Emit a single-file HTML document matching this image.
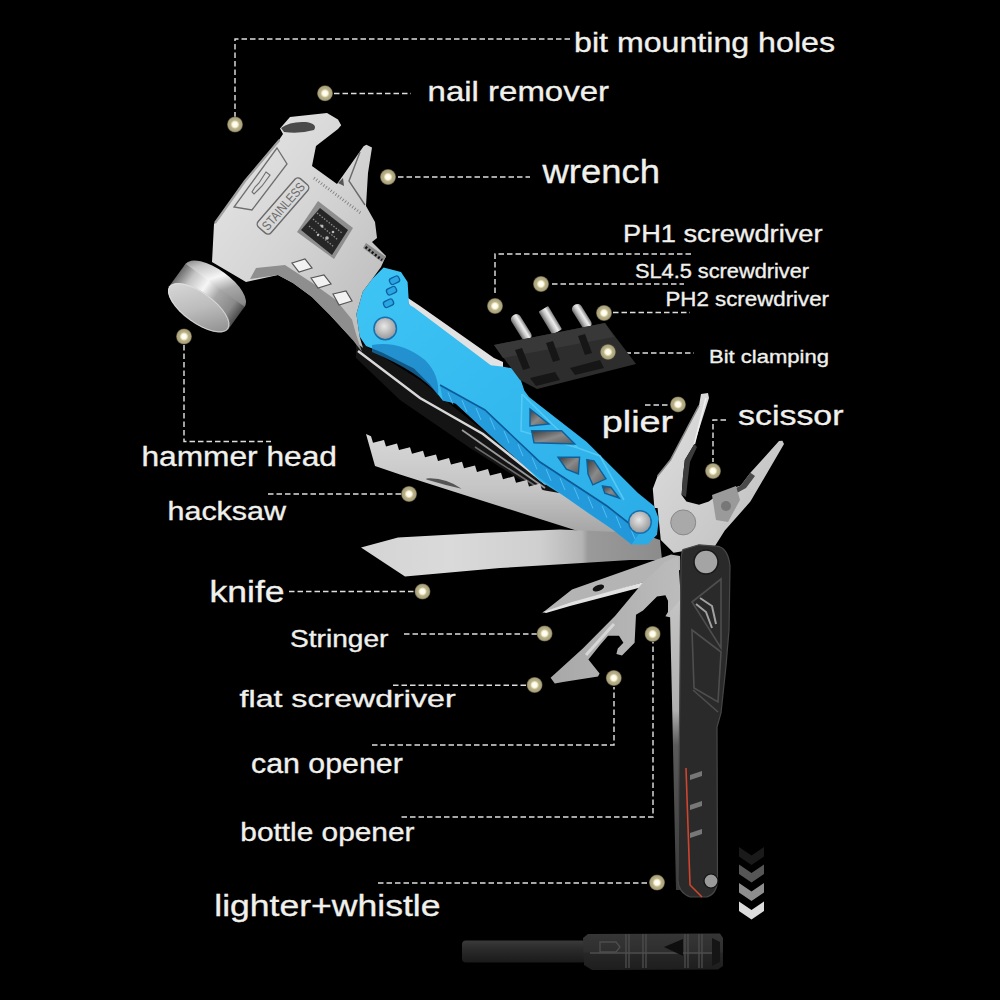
<!DOCTYPE html>
<html><head><meta charset="utf-8">
<style>
html,body{margin:0;padding:0;background:#000;width:1000px;height:1000px;overflow:hidden}
svg{display:block}
text{font-family:"Liberation Sans",sans-serif;fill:#f0f0ec;stroke:#f0f0ec;stroke-width:0.35px}
</style></head><body>
<svg width="1000" height="1000" viewBox="0 0 1000 1000">
<defs>
  <radialGradient id="dot" cx="50%" cy="50%" r="50%">
    <stop offset="0" stop-color="#ffffff"/>
    <stop offset="0.3" stop-color="#fffbea"/>
    <stop offset="0.42" stop-color="#e6dfb8"/>
    <stop offset="0.55" stop-color="#b9b28a"/>
    <stop offset="0.85" stop-color="#a9a27b"/>
    <stop offset="1" stop-color="#4a4632"/>
  </radialGradient>
  <linearGradient id="steel" x1="0" y1="0" x2="1" y2="1">
    <stop offset="0" stop-color="#e8e8e8"/>
    <stop offset="0.5" stop-color="#d4d4d4"/>
    <stop offset="1" stop-color="#b8b8b8"/>
  </linearGradient>
  <linearGradient id="blade" x1="0" y1="0" x2="0" y2="1">
    <stop offset="0" stop-color="#d8d8d8"/>
    <stop offset="0.5" stop-color="#c4c4c4"/>
    <stop offset="1" stop-color="#9a9a9a"/>
  </linearGradient>
  <linearGradient id="blue" x1="0" y1="0" x2="1" y2="1">
    <stop offset="0" stop-color="#3ec4f4"/>
    <stop offset="0.5" stop-color="#34b9ef"/>
    <stop offset="1" stop-color="#2aabe6"/>
  </linearGradient>
  <linearGradient id="cyl" gradientUnits="userSpaceOnUse" x1="185" y1="262" x2="245" y2="305">
    <stop offset="0" stop-color="#8a8a8a"/>
    <stop offset="0.35" stop-color="#f0f0f0"/>
    <stop offset="0.6" stop-color="#a8a8a8"/>
    <stop offset="1" stop-color="#606060"/>
  </linearGradient>
  <linearGradient id="face" x1="0" y1="0" x2="1" y2="1">
    <stop offset="0" stop-color="#d6d6d6"/>
    <stop offset="1" stop-color="#8c8c8c"/>
  </linearGradient>
  <linearGradient id="chev" x1="0" y1="0" x2="0" y2="1">
    <stop offset="0" stop-color="#111"/>
    <stop offset="1" stop-color="#f4f4f4"/>
  </linearGradient>
  <linearGradient id="knifeg" gradientUnits="userSpaceOnUse" x1="360" y1="0" x2="660" y2="0">
    <stop offset="0" stop-color="#d4d4d4"/>
    <stop offset="0.3" stop-color="#dadada"/>
    <stop offset="0.6" stop-color="#cfcfcf"/>
    <stop offset="0.74" stop-color="#b4b4b4"/>
    <stop offset="0.76" stop-color="#9a9a9a"/>
    <stop offset="1" stop-color="#8c8c8c"/>
  </linearGradient>
  <linearGradient id="openg" x1="0" y1="0" x2="1" y2="0">
    <stop offset="0" stop-color="#a8a8a8"/>
    <stop offset="1" stop-color="#bcbcbc"/>
  </linearGradient>
  <linearGradient id="plierg" x1="0" y1="0" x2="1" y2="1">
    <stop offset="0" stop-color="#e0e0e0"/>
    <stop offset="1" stop-color="#bdbdbd"/>
  </linearGradient>
  <radialGradient id="screwg" cx="45%" cy="40%" r="60%">
    <stop offset="0" stop-color="#e8e8e8"/>
    <stop offset="1" stop-color="#9a9a9a"/>
  </radialGradient>
  <linearGradient id="wing" x1="0" y1="0" x2="1" y2="1">
    <stop offset="0" stop-color="#3a3a3a"/>
    <stop offset="0.5" stop-color="#8a8a8a"/>
    <stop offset="1" stop-color="#5a5a5a"/>
  </linearGradient>
  <linearGradient id="linerg" gradientUnits="userSpaceOnUse" x1="0" y1="600" x2="0" y2="890">
    <stop offset="0" stop-color="#c4c4c4"/>
    <stop offset="0.38" stop-color="#b0b0b0"/>
    <stop offset="0.5" stop-color="#5a5a5a"/>
    <stop offset="1" stop-color="#3a3a3a"/>
  </linearGradient>
  <linearGradient id="bitg" x1="0" y1="0" x2="0" y2="1">
    <stop offset="0" stop-color="#808080"/>
    <stop offset="0.35" stop-color="#eeeeee"/>
    <stop offset="0.6" stop-color="#c8c8c8"/>
    <stop offset="1" stop-color="#6a6a6a"/>
  </linearGradient>
  <linearGradient id="rodg" x1="0" y1="0" x2="0" y2="1">
    <stop offset="0" stop-color="#3a3a3a"/>
    <stop offset="0.35" stop-color="#2c2c2c"/>
    <stop offset="1" stop-color="#1a1a1a"/>
  </linearGradient>
  <linearGradient id="whg" x1="0" y1="0" x2="0" y2="1">
    <stop offset="0" stop-color="#363636"/>
    <stop offset="0.5" stop-color="#2e2e2e"/>
    <stop offset="0.55" stop-color="#262626"/>
    <stop offset="1" stop-color="#1e1e1e"/>
  </linearGradient>
</defs>

<!-- ============ LEADER LINES ============ -->
<g stroke="#dedede" stroke-width="1.45" stroke-dasharray="5.5 3" fill="none">
  <path d="M570 39 H235 V118"/>
  <path d="M334 93.5 H411"/>
  <path d="M398 177 H530"/>
  <path d="M691 254 H495 V296"/>
  <path d="M552 284 H684"/>
  <path d="M613 312.5 H690"/>
  <path d="M617 353 H694"/>
  <path d="M645 405 H670"/>
  <path d="M726 420 H713 V462"/>
  <path d="M184 345 V441.5 H271"/>
  <path d="M268 494 H401"/>
  <path d="M289 591.5 H414"/>
  <path d="M404 634 H537"/>
  <path d="M393 685.3 H527"/>
  <path d="M372 745 H614 V687"/>
  <path d="M401.5 817 H653 V642"/>
  <path d="M378 883 H650"/>
</g>

<!-- ============ BLADES (behind) ============ -->
<!-- blade backs strip -->
<polygon fill="#141414" points="356,340 420,380 470,420 560,490 630,540 640,552 625,556 560,505 470,448 400,400 356,358"/>
<path d="M358 351 L420 398 L483 434 L546 484" stroke="#d8d8d8" stroke-width="2.5" fill="none"/>
<path d="M462 430 L545 488" stroke="#9a9a9a" stroke-width="1.8" fill="none"/>
<path d="M475 447 L548 494" stroke="#6a6a6a" stroke-width="1.5" fill="none"/>
<!-- hacksaw -->
<polygon fill="url(#blade)" points="366.0,434.0 371.0,436.3 373.0,442.8 384.0,439.9 386.0,446.4 397.0,443.6 399.0,450.1 410.0,447.2 412.0,453.7 423.0,450.8 425.0,457.3 436.0,454.5 438.0,461.0 449.0,458.1 451.0,464.6 462.0,461.8 464.0,468.3 475.0,465.4 477.0,471.9 488.0,469.0 490.0,475.5 501.0,472.7 503.0,479.2 514.0,476.3 516.0,482.8 527.0,480.0 529.0,486.5 540.0,483.6 542.0,490.1 600.0,500.0 640.0,530.0 640.0,548.0 628.0,547.0 600.0,538.0 540.0,519.0 480.0,500.0 400.0,474.4 375.0,466.0"/>
<path d="M426.4 478.4 Q445 477 461.6 488.8 Q444 485 426.4 479.6Z" fill="#555"/>
<!-- knife -->
<polygon fill="url(#knifeg)" points="361,547.5 398,537.5 480,533 560,529.5 640,533 660,540 662,560 630,560 590,562.5 500,568 405,576.5"/>
<!-- stringer -->
<polygon fill="#b4b4b4" points="541.6,613.6 572,589.6 671,554.4 680,556 680,570 645.6,581.6 546,611.5"/>
<polygon fill="#e2e2e2" points="543,612 572,602 645.6,581.6 646,586 570,606 546,613"/>
<ellipse cx="598.4" cy="588" rx="6" ry="3" transform="rotate(-20 598.4 588)" fill="#111"/>
<!-- opener blade -->
<polygon fill="url(#openg)" points="678,556 681,600 680,617.6 671,617.6 665.4,616.2 668,612 668,600.8 665.4,595.2 657,596.6 643,610.6 636,614.8 634.6,642.8 622,655.4 616.4,654 617.8,648.4 623.4,642.8 619,635.8 608,635.8 600,645 588.4,659.6 599.6,673.6 598,676.4 563,682 554.8,683.4 550.6,677.8 582.8,648.4 615,616 643,582.6 665,562"/>
<path d="M614 624 L586 655" stroke="#d6d6d6" stroke-width="3" fill="none"/>
<!-- liner strip -->
<polygon fill="url(#linerg)" points="670,612 680,600 681,890 676,890 672,700"/>

<!-- ============ PLIERS ============ -->
<polygon fill="url(#plierg)" points="701,394 708,393 709,398 694.4,444 684.8,460 683,476 681.6,495 686.4,501.6 699,504.8 708.8,501.6 721.6,492 740.8,485.6 750.4,472.8 779,441 782.4,440.8 784,444 750.4,501.6 724.8,530.4 715,546 692.8,549.6 673.6,552.8 660.8,540 657.6,508 654.4,508 652.8,488.8 657.6,476 670.4,460 699,405.6"/>
<polygon fill="#3c3c3c" points="694.4,444 684.8,460 683,476 681.6,495 686,497 688,478 690,462 697,447"/>
<polygon fill="#4a4a4a" points="750.4,472.8 740.8,485.6 732,490 735,494 746,488 755,476"/>
<path d="M706 398 L694.4 444" stroke="#f0f0f0" stroke-width="1.5" fill="none"/>
<polygon fill="#9a9a9a" points="712,495 736,486 740,500 728,522 716,520"/>
<circle cx="726" cy="506" r="5" fill="#777"/>
<circle cx="683.2" cy="522.4" r="12.5" fill="#a9a9a9" stroke="#888" stroke-width="1"/>
<path d="M699 405.6 L670.4 460 L657.6 476" stroke="#888" stroke-width="1.5" fill="none"/>

<!-- ============ BLACK HANDLE ============ -->
<path fill="#2a2a2a" stroke="#474747" stroke-width="1.2" d="M683 549.6 L699 544.8 L718.4 546.4 Q728 549 730 565.6 L729 630 L726 666 L721 713 L717 727 L717.5 880 Q717 894 707 897 L690 897 Q678 892 678 880 L679.6 713 L681 560 Q681.6 552 683 549.6 Z"/>
<g stroke="#4e4e4e" stroke-width="1.6" fill="none">
  <path d="M692 602 L721 579 L721 648 Z"/>
  <path d="M692 630 L721 652 L718 702 L694 688 Z"/>
  <path d="M693 690 L718 712"/>
</g>
<g stroke="#b8b8b8" stroke-width="2" fill="none" opacity="0.85">
  <path d="M696 604 L706 612 L712 628"/>
  <path d="M700 598 L712 606 L716 624"/>
</g>
<g fill="#777">
  <polygon points="690,775 702,771 702,776 690,780"/>
  <polygon points="690,805 702,801 702,806 690,810"/>
  <polygon points="690,833 702,829 702,834 690,838"/>
</g>
<path d="M686 768 L690 885 L702 897" stroke="#d0452e" stroke-width="1.6" fill="none"/>
<circle cx="706" cy="562" r="12" fill="#a4a4a4" stroke="#1a1a1a" stroke-width="1.5"/>
<circle cx="711" cy="881" r="7" fill="#9a9a9a" stroke="#111" stroke-width="1.2"/>

<!-- ============ BLUE HANDLE ============ -->
<polygon fill="#e2e2e2" points="405,296 420,306 494,358 503,362 503,368 490,367 410,306"/>
<polygon fill="url(#blue)" points="383.6,267.6 401,272 407.6,282 409,304.4 414,307.6 490.8,365.2 503.6,366.8 513,368.4 519.6,376.4 524.4,390.8 529,397 586.8,442 638,493 654,506 658.8,518.8 657,534.8 647.6,544.4 631.6,544.4 612,529 588,513 564,496 540,481 529,470 484.4,430 455.6,403.6 442.8,400.4 430,384.4 414,368.4 382,352.4 366,346 359.6,336.4 356.4,314 362.8,291.6 372.4,278.8"/>
<polygon fill="#1d8ed2" opacity="0.65" points="442.8,400.4 455.6,403.6 484.4,430 529,470 564,496 612,529 631.6,544.4 640,532 607,506 540,462 485,410 440,385"/>
<path d="M440 385 L485 410 L540 462 L607 506 L640 532" stroke="#0c5a96" stroke-width="1.6" fill="none"/>
<g stroke="#6fd8ff" stroke-width="1" opacity="0.6"><path d="M448.0 392.4 L453.0 404.4"/>
<path d="M462.0 400.2 L467.0 412.2"/>
<path d="M476.0 408.0 L481.0 420.0"/>
<path d="M490.0 417.7 L495.0 429.7"/>
<path d="M504.0 431.0 L509.0 443.0"/>
<path d="M518.0 444.2 L523.0 456.2"/>
<path d="M532.0 457.4 L537.0 469.4"/>
<path d="M546.0 468.9 L551.0 480.9"/>
<path d="M560.0 478.1 L565.0 490.1"/>
<path d="M574.0 487.3 L579.0 499.3"/>
<path d="M588.0 496.5 L593.0 508.5"/>
<path d="M602.0 505.7 L607.0 517.7"/>
<path d="M616.0 516.1 L621.0 528.1"/>
<path d="M630.0 527.1 L635.0 539.1"/>
</g>
<path d="M372 345 Q400 340 425 360 Q440 375 438 395 Q420 372 372 352 Z" fill="#1a7ec0" opacity="0.7"/>
<path d="M522 394 L521 431 L578 448 M522 394 L552 424 L578 448 L600 456 L624 500" stroke="#5ccdf8" stroke-width="1.6" fill="none" opacity="0.8"/>
<g fill="url(#wing)" stroke="#0f5f9a" stroke-width="1.4">
  <polygon points="530,409 549,424 530,426"/>
  <polygon points="531.6,430.8 561.6,430.8 574.8,444 534,442.8"/>
  <polygon points="558,457.2 579.6,457.2 578.4,474 566.4,469.2"/>
  <polygon points="586.8,459.6 594,460.8 606,478.8 592.8,484.8 588,474"/>
  <polygon points="602.4,486 610.8,487.2 619.2,498 604.8,493.2"/>
</g>
<g fill="#2aa6e4" stroke="#0e609c" stroke-width="1.3">
  <rect x="389.5" y="277" width="10" height="6.5" rx="2.5" transform="rotate(-25 394.5 280.2)"/>
  <rect x="386.5" y="287.5" width="10" height="6.5" rx="2.5" transform="rotate(-25 391.5 290.7)"/>
  <rect x="383.5" y="300" width="10" height="6.5" rx="2.5" transform="rotate(-25 388.5 303.2)"/>
</g>
<circle cx="385.2" cy="328.4" r="12" fill="#1470b0"/>
<circle cx="385.2" cy="328.4" r="10.5" fill="url(#screwg)"/>
<circle cx="640" cy="522" r="12" fill="#1470b0"/>
<circle cx="640" cy="522" r="10.5" fill="url(#screwg)"/>

<!-- ============ HAMMER HEAD ============ -->
<polygon fill="url(#steel)" points="280,128.5 290,117 327,113 338,119.6 341.2,125.2 338,129 316,146 312,166 337,184 363.6,146.2 366.4,144.8 372,147.6 368,173 366,206 375,222 377,238 372,242 386,256 381,267 372.4,278.8 362.8,291.6 356.4,314 359.6,336.4 363,348 352,339 330,315 312,297 293,283 278,275 246,282 212,262 214,224 245,180 279,140 283,134"/>
<!-- teeth band -->
<polygon fill="#8e8e8e" points="256,268 285,265 312,282.8 336,300 352,319.6 356,334 362,352 352,339 330,315 312,297 293,283 278,275 250,279"/>
<g fill="#f2f2f2" stroke="#555" stroke-width="1.2">
  <polygon points="292,263 305,259 312,268 299,272"/>
  <polygon points="311,278 324,275 331,284 318,288"/>
  <polygon points="333,294 346,291 352,301 339,305"/>
</g>
<!-- adjuster knurl -->
<polygon points="366,243 386,257 382,262 363,248" fill="#8a8a8a"/>
<path d="M365.5 247 L382 260" stroke="#111" stroke-width="2.6" stroke-dasharray="2 2" fill="none"/>
<!-- nail slot -->
<path d="M281 128 Q290 121 306 122 Q318 124 314 130 Q300 134 284 132 Z" fill="#4a4a4a"/>
<!-- worm gear window -->
<polygon points="318,201 353,228 334,259 297,232" fill="#8e8e8e"/>
<polygon points="320,208 348,230 332,255 301,230" fill="#262626"/>
<g stroke="#8a8a8a" stroke-width="1.3" fill="none" stroke-dasharray="1.5 1.5">
  <path d="M313 219 L338 240 M309 226 L334 247 M317 213 L342 233"/>
</g>
<g fill="#e0e0e0" opacity="0.8">
  <circle cx="322" cy="226" r="1.5"/><circle cx="327" cy="238" r="1.8"/><circle cx="333" cy="232" r="1.3"/><circle cx="318" cy="235" r="1.2"/>
</g>
<!-- ruler ticks -->
<path d="M314 178 L362 214" stroke="#7a7a7a" stroke-width="3" stroke-dasharray="0.8 2.2" fill="none"/>
<path d="M360 152 L349 181 L365 205" stroke="#6a6a6a" stroke-width="1.4" fill="none"/>
<polygon points="338,183 343,178 344,186" fill="#555"/>
<!-- stainless plate -->
<g transform="rotate(-49 283 206)">
  <rect x="251" y="197.5" width="64" height="17" rx="4" fill="none" stroke="#6a6a6a" stroke-width="1.4"/>
  <text x="254" y="211" font-size="13" style="fill:#6a6a6a;stroke:none" textLength="58" lengthAdjust="spacingAndGlyphs">STAINLESS</text>
</g>
<!-- raised plate + slot -->
<path d="M277 148 L287 164 L252 210 L234 207 Z" fill="none" stroke="#6e6e6e" stroke-width="1.3"/>
<path d="M266 172 L270 175 L262 186 L258 190 L254 194 L252 192 L255 187 L259 183 Z" fill="none" stroke="#6e6e6e" stroke-width="1.1"/>
<path d="M215 223 L245 181 L279.5 140" stroke="#a0a0a0" stroke-width="2.2" fill="none"/>
<!-- hammer cylinder -->
<g>
  <linearGradient id="cyl2" gradientUnits="userSpaceOnUse" x1="185.6" y1="263.8" x2="244.6" y2="306.7">
    <stop offset="0" stop-color="#6a6a6a"/>
    <stop offset="0.18" stop-color="#c4c4c4"/>
    <stop offset="0.4" stop-color="#f6f6f6"/>
    <stop offset="0.6" stop-color="#a8a8a8"/>
    <stop offset="0.85" stop-color="#8a8a8a"/>
    <stop offset="1" stop-color="#4c4c4c"/>
  </linearGradient>
  <linearGradient id="face2" gradientUnits="userSpaceOnUse" x1="173.8" y1="287.8" x2="223.8" y2="327.8">
    <stop offset="0" stop-color="#d8d8d8"/>
    <stop offset="0.5" stop-color="#bdbdbd"/>
    <stop offset="1" stop-color="#8e8e8e"/>
  </linearGradient>
  <ellipse cx="215.1" cy="285.25" rx="36.5" ry="15.5" transform="rotate(36 215.1 285.25)" fill="url(#cyl2)"/>
  <polygon points="169.2,286.3 185.6,263.8 244.6,306.7 228.3,329.2" fill="url(#cyl2)"/>
  <ellipse cx="198.75" cy="307.75" rx="36.5" ry="15.5" transform="rotate(36 198.75 307.75)" fill="url(#face2)"/>
  <ellipse cx="198.75" cy="307.75" rx="35.7" ry="14.7" transform="rotate(36 198.75 307.75)" fill="none" stroke="#e6e6e6" stroke-width="0.9" opacity="0.7"/>
</g>

<!-- ============ BIT HOLDER ============ -->
<g>
  <g transform="translate(521,327) rotate(58)"><rect x="-14" y="-5.2" width="29" height="10.4" rx="4.5" fill="url(#bitg)"/></g>
  <g transform="translate(550,320) rotate(59)"><rect x="-13" y="-5.6" width="27" height="11.2" rx="1" fill="url(#bitg)"/></g>
  <g transform="translate(581.5,316) rotate(58)"><rect x="-13" y="-5.2" width="27" height="10.4" rx="4.5" fill="url(#bitg)"/></g>
  <polygon fill="#2d2d2d" points="494,345 605,323 636,364 537,389 520,380"/>
  <polygon fill="#383838" points="494,345 605,323 614,337 503,358"/>
  <g fill="#161616">
    <polygon points="515,350 522,348 530,368 523,370"/>
    <polygon points="546,343 553,341 560,360 553,362"/>
    <polygon points="578,336 585,334 592,353 585,355"/>
    <polygon points="530,378 555,372 560,380 536,386"/>
    <polygon points="570,368 600,360 604,368 575,375"/>
  </g>
</g>

<!-- ============ LIGHTER ============ -->
<rect x="462" y="940.5" width="124" height="22" rx="4" fill="url(#rodg)"/>
<polygon fill="url(#whg)" points="583,938 588,934 720,933.5 723,938 723,966 718,969.5 592,970 584,965"/>
<g stroke="#4e4e4e" stroke-width="1.3" fill="none">
  <path d="M600 942 L616 942 L620 947 L616 952 L600 952 Z"/>
  <path d="M626 934 V968 M629 934 V968 M643 934 V968 M646 934 V968 M685 934 V968 M688 934 V968 M699 934 V968 M702 934 V968"/>
  <path d="M590 953 H720"/>
</g>
<polygon points="664,947 683,939 683,956" fill="#0e0e0e"/>
<path d="M712 938 L720 942 L720 962 L712 966 Z" fill="#151515"/>

<!-- ============ CHEVRONS ============ -->
<polygon fill="#1a1a1a" points="739,847 751.5,855.5 764,847 764,856.5 751.5,865 739,856.5"/>
<polygon fill="#565656" points="739,864.5 751.5,873 764,864.5 764,874 751.5,882.5 739,874"/>
<polygon fill="#8e8e8e" points="739,883 751.5,891.5 764,883 764,892.5 751.5,901 739,892.5"/>
<polygon fill="#dcdcdc" points="739,901.5 751.5,910 764,901.5 764,911 751.5,919.5 739,911"/>

<!-- ============ DOTS ============ -->
<g fill="url(#dot)">
  <circle cx="235" cy="124.5" r="8"/>
  <circle cx="325" cy="93.3" r="8"/>
  <circle cx="388" cy="177" r="8"/>
  <circle cx="495" cy="306" r="8"/>
  <circle cx="541" cy="284" r="8"/>
  <circle cx="604" cy="313" r="8"/>
  <circle cx="608" cy="352" r="8"/>
  <circle cx="678" cy="404.4" r="8"/>
  <circle cx="713" cy="471" r="8"/>
  <circle cx="184" cy="336.5" r="8"/>
  <circle cx="409" cy="494" r="8"/>
  <circle cx="422.5" cy="591.5" r="8"/>
  <circle cx="544.6" cy="633.5" r="8"/>
  <circle cx="534.6" cy="685" r="8"/>
  <circle cx="613.8" cy="678" r="8"/>
  <circle cx="652.6" cy="634" r="8"/>
  <circle cx="657" cy="882.6" r="8"/>
</g>

<!-- ============ LABELS ============ -->
<text x="574" y="51.5" font-size="27.5" textLength="261" lengthAdjust="spacingAndGlyphs">bit mounting holes</text>
<text x="427.6" y="101" font-size="28" textLength="181.4" lengthAdjust="spacingAndGlyphs">nail remover</text>
<text x="542.5" y="183" font-size="33" textLength="117.5" lengthAdjust="spacingAndGlyphs">wrench</text>
<text x="623" y="242" font-size="23" textLength="199.5" lengthAdjust="spacingAndGlyphs">PH1 screwdriver</text>
<text x="635" y="277.5" font-size="19.5" textLength="174" lengthAdjust="spacingAndGlyphs">SL4.5 screwdriver</text>
<text x="665.5" y="306" font-size="20" textLength="163.5" lengthAdjust="spacingAndGlyphs">PH2 screwdriver</text>
<text x="709" y="363" font-size="19" textLength="120" lengthAdjust="spacingAndGlyphs">Bit clamping</text>
<text x="601.7" y="431.6" font-size="29" textLength="71.5" lengthAdjust="spacingAndGlyphs">plier</text>
<text x="738" y="425" font-size="27" textLength="105.5" lengthAdjust="spacingAndGlyphs">scissor</text>
<text x="141.4" y="465.5" font-size="27" textLength="195.6" lengthAdjust="spacingAndGlyphs">hammer head</text>
<text x="167.5" y="519.5" font-size="26" textLength="118.5" lengthAdjust="spacingAndGlyphs">hacksaw</text>
<text x="209.5" y="602" font-size="30" textLength="75" lengthAdjust="spacingAndGlyphs">knife</text>
<text x="290" y="647" font-size="23" textLength="98.4" lengthAdjust="spacingAndGlyphs">Stringer</text>
<text x="239.6" y="707" font-size="24.5" textLength="216" lengthAdjust="spacingAndGlyphs">flat screwdriver</text>
<text x="251" y="772.5" font-size="27" textLength="151.8" lengthAdjust="spacingAndGlyphs">can opener</text>
<text x="240.3" y="841" font-size="26.5" textLength="174.2" lengthAdjust="spacingAndGlyphs">bottle opener</text>
<text x="214.3" y="915.5" font-size="30" textLength="226.2" lengthAdjust="spacingAndGlyphs">lighter+whistle</text>
</svg>
</body></html>
